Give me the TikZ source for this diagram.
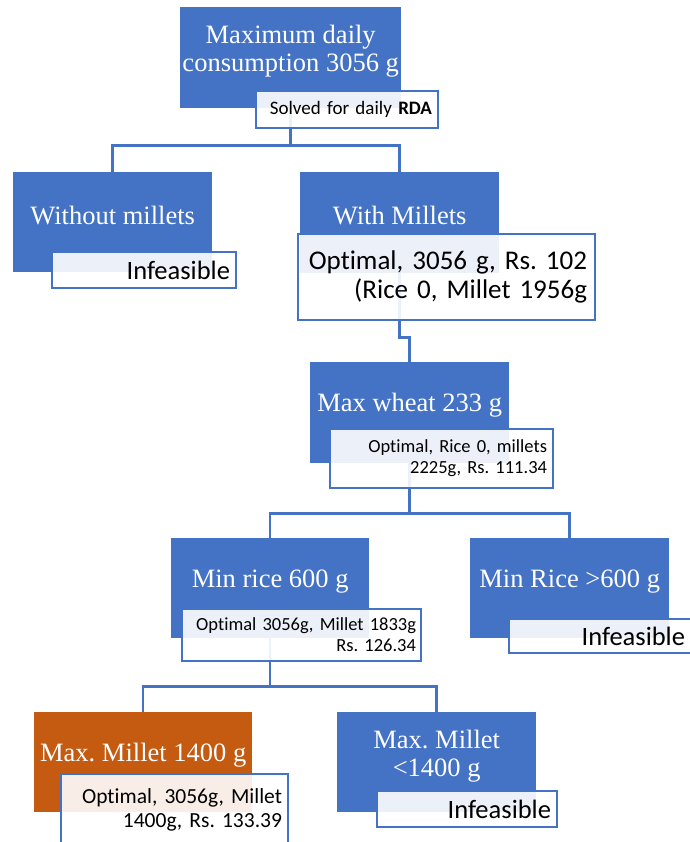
\documentclass[tikz,border=0pt]{standalone}
\usepackage{fontspec}
\newfontfamily\boxfont{Liberation Serif}
\newfontfamily\lblfont{Carlito}[Ligatures=NoCommon]
\definecolor{accblue}{HTML}{4472C4}
\definecolor{accorange}{HTML}{C55A11}
\frenchspacing
\tikzset{
  mainbox/.style={draw=none, fill=accblue, inner sep=0pt, anchor=north west},
  orangebox/.style={mainbox, fill=accorange},
  boxtxt/.style={text=white, align=center, inner sep=0pt, font=\boxfont\fontsize{26.5}{28}\selectfont},
  lbl/.style={draw=accblue, line width=2pt, fill=white, fill opacity=0.9, text opacity=1,
    text=black, inner xsep=6pt, inner ysep=0pt, align=right, anchor=north west},
  big/.style={font=\lblfont\fontsize{27}{29}\selectfont},
  mid/.style={font=\lblfont\fontsize{26.5}{28}\selectfont},
  med/.style={font=\lblfont\fontsize{21.5}{24}\selectfont},
  small/.style={font=\lblfont\fontsize{18.5}{21}\selectfont},
  conn/.style={draw=accblue, line width=2.5pt}
}
\begin{document}
\begin{tikzpicture}[x=1pt,y=-1pt]
\useasboundingbox (0,0) rectangle (689,842);

% main boxes
\node[mainbox, minimum width=221pt, minimum height=101pt,
  label={[boxtxt, name=toptxt, yshift=7pt]center:{Maximum daily\\consumption 3056 g}}] (top) at (180,7) {};
\node[mainbox, minimum width=199pt, minimum height=100pt,
  label={[boxtxt, name=wotxt, yshift=7pt]center:{Without millets}}] (wo) at (13,172) {};
\node[mainbox, minimum width=199pt, minimum height=101pt,
  label={[boxtxt, name=wmtxt, yshift=7pt]center:{With Millets}}] (wm) at (300,172) {};
\node[mainbox, minimum width=199pt, minimum height=101pt,
  label={[boxtxt, name=mwtxt, yshift=8pt]center:{Max wheat 233 g}}] (mw) at (310,362) {};
\node[mainbox, minimum width=198pt, minimum height=100pt,
  label={[boxtxt, name=mrtxt, yshift=7pt]center:{Min rice 600 g}}] (mr) at (171,538) {};
\node[mainbox, minimum width=199pt, minimum height=100pt,
  label={[boxtxt, name=mrgtxt, yshift=7pt]center:{Min Rice >600 g}}] (mrg) at (470,538) {};
\node[orangebox, minimum width=218pt, minimum height=100pt,
  label={[boxtxt, name=mmtxt, yshift=7pt]center:{Max. Millet 1400 g}}] (mm) at (34,712) {};
\node[mainbox, minimum width=199pt, minimum height=100pt,
  label={[boxtxt, name=mmltxt, yshift=6pt]center:{Max. Millet\\<1400 g}}] (mml) at (337,712) {};

% connectors
\draw[conn] (top.south) -- ++(0,37) coordinate (j1);
\draw[conn] (wo.north) |- (j1) -| (wm.north);
\draw[conn] (wm.south) -- ++(0,64) -| (mw.north);
\draw[conn] (mw.south) -- ++(0,50) coordinate (j2);
\draw[conn] (mr.north) |- (j2) -| (mrg.north);
\draw[conn] (mr.south) -- ++(0,48) coordinate (j3);
\draw[conn] (mm.north) |- (j3) -| (mml.north);

% label boxes
\node[lbl, font=\lblfont\fontsize{19}{21}\selectfont, minimum width=182pt, minimum height=37pt, text width=170pt] (toplbl) at (255,90) {Solved for daily \textbf{RDA}};
\node[lbl, mid, minimum width=184pt, minimum height=36pt, text width=172pt] (wolbl) at (51,251) {Infeasible};
\node[lbl, big, minimum width=297pt, minimum height=86pt, text width=281pt, inner xsep=8pt] (wmlbl) at (297,233) {Optimal, 3056 g, Rs. 102\\(Rice 0, Millet 1956g};
\node[lbl, small, minimum width=223pt, minimum height=59pt, text width=211pt] (mwlbl) at (329,428) {Optimal, Rice 0, millets\\2225g, Rs. 111.34};
\node[lbl, small, minimum width=239pt, minimum height=52pt, text width=229pt, inner xsep=5pt] (mrlbl) at (181,608) {Optimal 3056g, Millet 1833g\\Rs. 126.34};
\node[lbl, mid, minimum width=182pt, minimum height=34pt, text width=170pt] (mrglbl) at (508,618) {Infeasible};
\node[lbl, med, minimum width=227pt, minimum height=71pt, text width=215pt] (mmlbl) at (60,773) {Optimal, 3056g, Millet\\1400g, Rs. 133.39};
\node[lbl, mid, minimum width=180pt, minimum height=36pt, text width=168pt] (mmllbl) at (376,790) {Infeasible};
\end{tikzpicture}
\end{document}
